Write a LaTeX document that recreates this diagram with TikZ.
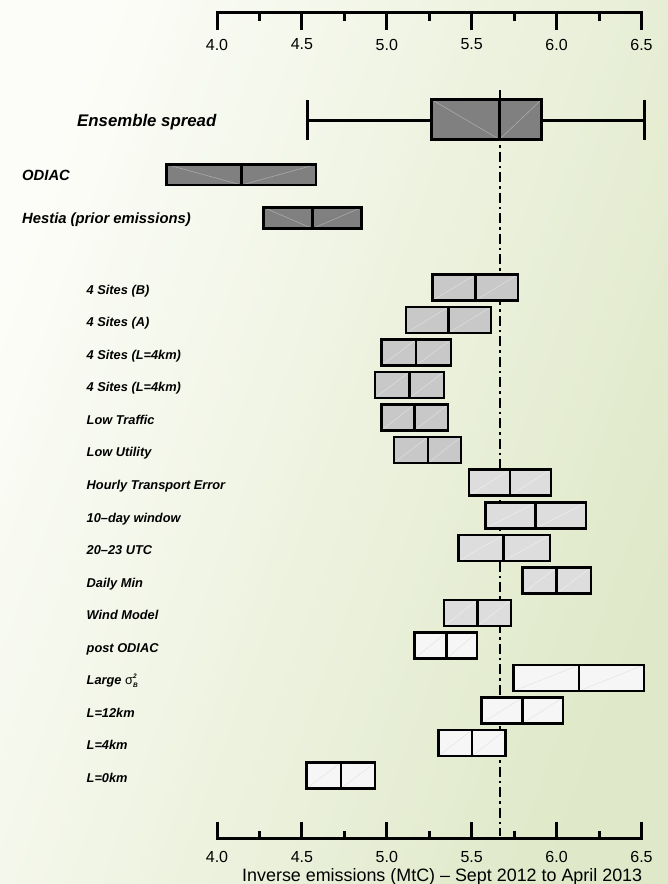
\documentclass[tikz,border=0pt]{standalone}
\usepackage{fontspec}
\setmainfont{Liberation Sans}
\definecolor{bgL}{HTML}{FCFDF8}
\definecolor{bgR}{HTML}{DFE8C8}
\definecolor{fillA}{HTML}{808080}
\definecolor{fillB}{HTML}{C8C8C8}
\definecolor{fillC}{HTML}{DDDDDD}
\definecolor{fillD}{HTML}{F6F6F6}
\definecolor{diagA}{HTML}{A9A9A9}
\definecolor{diagB}{HTML}{DCDCDC}
\definecolor{diagC}{HTML}{ECECEC}
\definecolor{diagD}{HTML}{E6E6E6}
\tikzset{
  boxline/.style={draw=black, line width=2.2pt, line join=miter},
  darkline/.style={draw=black, line width=2.8pt, line join=miter},
  axisline/.style={draw=black, line width=3pt, line join=miter},
  thindiag/.style={line width=0.6pt},
  lab/.style={anchor=base west, inner sep=0pt, font=\fontsize{12.8}{15}\selectfont\bfseries\itshape},
  midlab/.style={anchor=base west, inner sep=0pt, font=\fontsize{14.8}{17}\selectfont\bfseries\itshape},
  biglab/.style={anchor=base west, inner sep=0pt, font=\fontsize{16.8}{19}\selectfont\bfseries\itshape},
  ticklab/.style={inner sep=0pt, font=\fontsize{16}{18}\selectfont},
  titlelab/.style={inner sep=0pt, font=\fontsize{17.9}{20}\selectfont},
  refline/.style={draw=black, line width=2pt, dash pattern=on 10pt off 4pt on 2.5pt off 4pt}
}
\newcommand\tinyidx{\fontsize{6.5}{7}\selectfont}
% light rows: name, label, fill, diag, top, bottom, left, median, right
\newcommand\lrow[9]{%
  \fill[#3] (#7,#5) rectangle (#9,#6);
  \draw[#4, thindiag] (#7,#6) -- (#8,#5) (#8,#6) -- (#9,#5);
  \draw[boxline] (#7,#5) rectangle (#9,#6) (#8,#5) -- (#8,#6);
  \node[lab] (#1) at (86.5,{(#5+#6)/2+6.5}) {#2};
}
% dark rows: top, bottom, left, median, right
\newcommand\drow[5]{%
  \fill[fillA] (#3,#1) rectangle (#5,#2);
  \draw[diagA, thindiag] (#3,#1) -- (#4,#2) -- (#5,#1);
  \draw[darkline] (#3,#1) rectangle (#5,#2) (#4,#1) -- (#4,#2);
}
\begin{document}
\begin{tikzpicture}[x=1pt,y=-1pt]
\useasboundingbox (0,0) rectangle (668,884);
\shade[top color=bgL, bottom color=bgR, shading angle=70] (0,0) rectangle (668,884);

% reference (dash-dot) line
\coordinate (rtop) at (500,90);
\coordinate (rbot) at (500,836);
\draw[refline] (rtop) -- (rbot);

% top axis
\draw[axisline] (217,30) -- (217,12) -- (641.5,12) -- (641.5,30);
\foreach \i in {2,4,6,8} \draw[axisline] (217+42.45*\i,12) -- ++(0,18);
\foreach \i in {1,3,5,7,9} \draw[axisline] (217+42.45*\i,12) -- ++(0,9);
% bottom axis
\draw[axisline] (217,822) -- (217,838) -- (641.5,838) -- (641.5,822);
\foreach \i in {2,4,6,8} \draw[axisline] (217+42.45*\i,838) -- ++(0,-16);
\foreach \i in {1,3,5,7,9} \draw[axisline] (217+42.45*\i,838) -- ++(0,-7);
\foreach \i/\t in {0/4.0,1/4.5,2/5.0,3/5.5,4/6.0,5/6.5} {
  \node[ticklab] (tt\i) at (217+84.9*\i,44.5) {\t};
  \node[ticklab] (bt\i) at (217+84.9*\i,857) {\t};
}
\node[titlelab] (title) at (442.2,876.5) {Inverse emissions (MtC) – Sept 2012 to April 2013};

% ensemble spread
\draw[axisline] (307,100) -- (307,140) (307,120) -- (431.5,120);
\draw[axisline] (644,100) -- (644,140) (541.5,120) -- (644,120);
\drow{99.5}{139.5}{431.5}{499.5}{541.5}
\node[biglab] (ens) at (77,126) {Ensemble spread};

% ODIAC, Hestia
\drow{164.5}{185}{166.5}{241.5}{316}
\node[midlab] (odiac) at (22,180) {ODIAC};
\drow{207.5}{228.5}{263.5}{312.5}{361.5}
\node[midlab] (hestia) at (22,223.5) {Hestia (prior emissions)};

% sensitivity rows
\lrow{r1}{4 Sites (B)}{fillB}{diagB}{274.5}{300.5}{432.5}{475.5}{518}
\lrow{r2}{4 Sites (A)}{fillB}{diagB}{307}{333}{406}{448.5}{491}
\lrow{r3}{4 Sites (L=4km)}{fillB}{diagB}{339.5}{365.5}{381.5}{416}{451}
\lrow{r4}{4 Sites (L=4km)}{fillB}{diagB}{372}{398}{375}{409.5}{444}
\lrow{r5}{Low Traffic}{fillB}{diagB}{404.5}{430.5}{381.5}{414.5}{448}
\lrow{r6}{Low Utility}{fillB}{diagB}{437}{463}{394}{428}{461}
\lrow{r7}{Hourly Transport Error}{fillC}{diagC}{469.5}{495.5}{469}{510}{551}
\lrow{r8}{10–day window}{fillC}{diagC}{502.5}{528.5}{485.5}{535.5}{586}
\lrow{r9}{20–23 UTC}{fillC}{diagC}{535}{561}{458.5}{503.5}{550}
\lrow{r10}{Daily Min}{fillC}{diagC}{567.5}{593.5}{522.5}{556.5}{591}
\lrow{r11}{Wind Model}{fillC}{diagC}{600}{626}{444}{477.5}{511}
\lrow{r12}{post ODIAC}{fillD}{diagD}{632.5}{658.5}{414.5}{446.5}{477}
\lrow{r13}{Large {\mdseries\upshape σ}\makebox[0pt][l]{\raisebox{6pt}{\tinyidx 2}}\raisebox{-3.2pt}{\tinyidx B}}{fillD}{diagD}{665}{691}{513.5}{579}{644}
\lrow{r14}{L=12km}{fillD}{diagD}{697.5}{723.5}{481.5}{522.5}{563}
\lrow{r15}{L=4km}{fillD}{diagD}{730}{756}{438.5}{472}{505.5}
\lrow{r16}{L=0km}{fillD}{diagD}{762.5}{788.5}{306.5}{341}{375}
\end{tikzpicture}
\end{document}
